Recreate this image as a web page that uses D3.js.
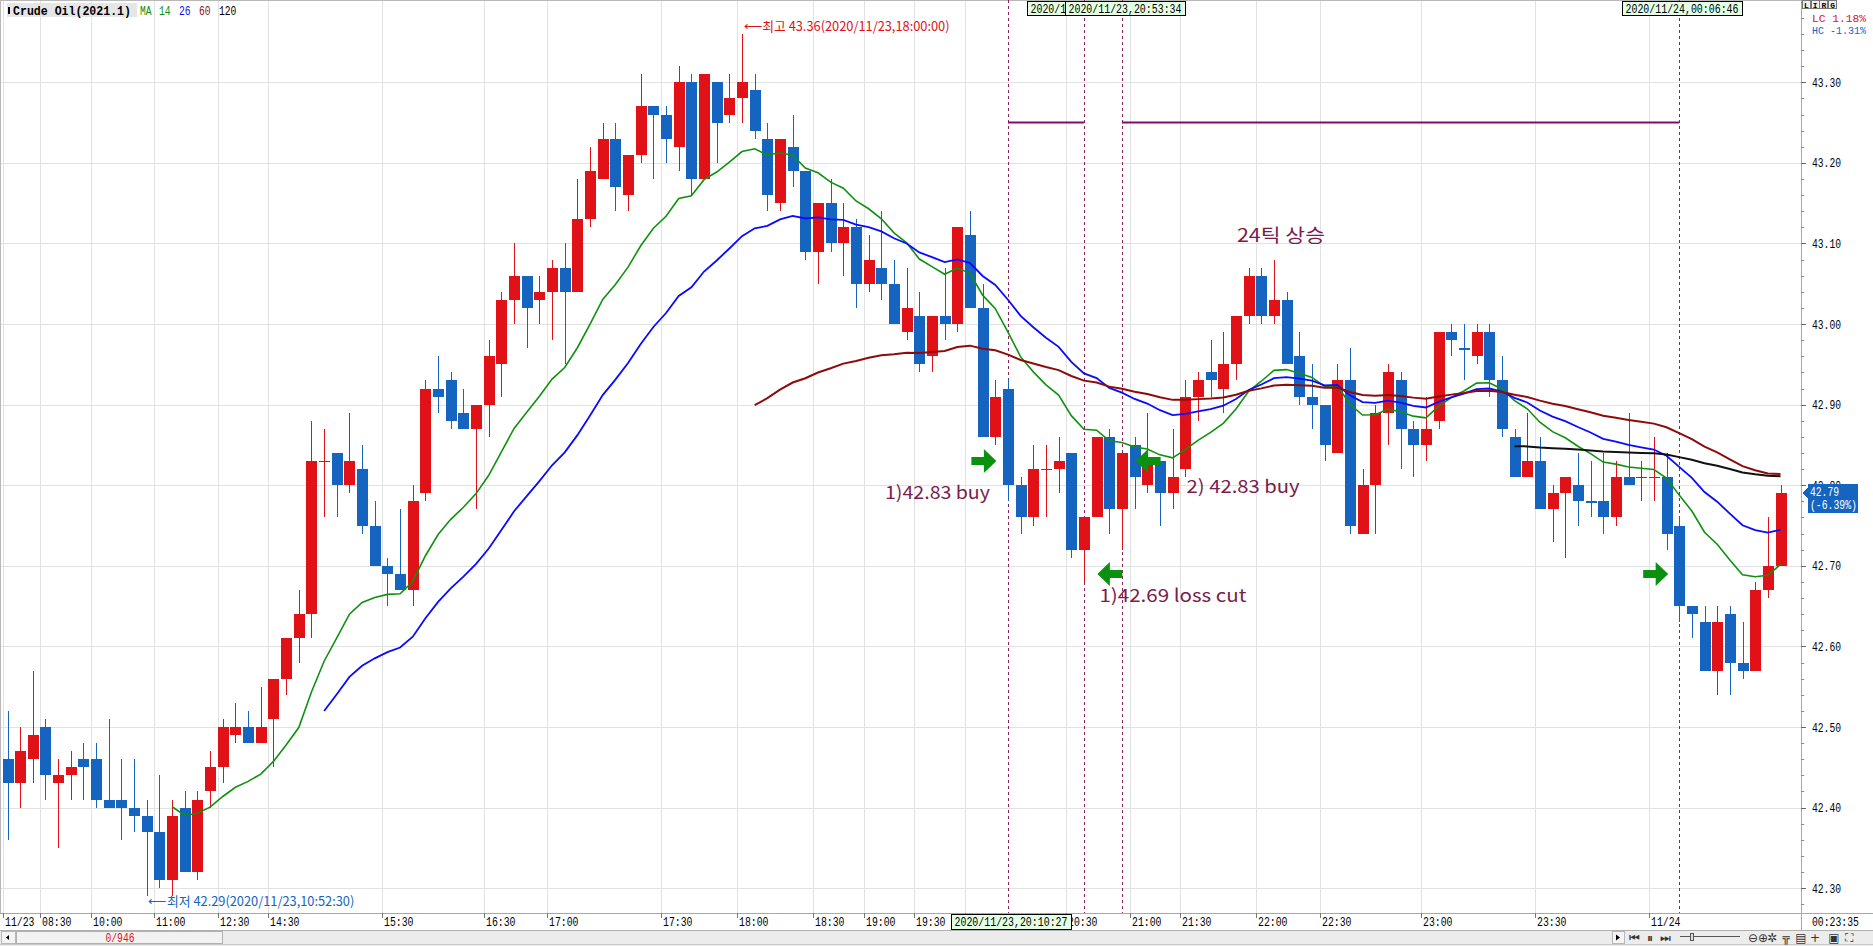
<!DOCTYPE html>
<html>
<head>
<meta charset="utf-8">
<script src="https://cdn.jsdelivr.net/npm/d3@7"></script>
<style>
body { margin: 0; background: #fff; overflow: hidden; }
svg { display: block; }
</style>
</head>
<body>
<script>
// OHLC, one entry per bar (tick bars, oldest first)
var opens = [42.46,42.43,42.46,42.50,42.43,42.44,42.46,42.46,42.41,42.41,42.40,42.39,42.37,42.31,42.40,42.32,42.42,42.45,42.49,42.50,
  42.48,42.51,42.56,42.61,42.64,42.83,42.84,42.80,42.82,42.75,42.70,42.69,42.67,42.79,42.92,42.93,42.89,42.87,42.90,42.95,
  43.03,43.06,43.03,43.04,43.07,43.04,43.13,43.18,43.23,43.16,43.21,43.27,43.26,43.22,43.30,43.18,43.30,43.26,43.28,43.29,
  43.23,43.15,43.22,43.19,43.09,43.15,43.10,43.12,43.05,43.07,43.05,42.99,43.01,42.96,43.01,43.00,43.11,43.02,42.86,42.92,
  42.80,42.76,42.82,42.82,42.84,42.72,42.76,42.86,42.77,42.85,42.80,42.83,42.79,42.82,42.91,42.94,42.92,42.95,43.01,43.06,
  43.01,43.03,42.96,42.91,42.90,42.84,42.93,42.74,42.80,42.89,42.93,42.87,42.85,42.88,42.99,42.97,42.96,42.99,42.93,42.86,
  42.81,42.83,42.77,42.79,42.80,42.78,42.78,42.76,42.81,42.81,42.81,42.81,42.75,42.65,42.63,42.57,42.64,42.58,42.57,42.67,
  42.70];
var highs = [42.52,42.50,42.57,42.51,42.46,42.47,42.48,42.48,42.51,42.46,42.46,42.41,42.44,42.41,42.42,42.42,42.47,42.51,42.53,42.52,
  42.55,42.56,42.61,42.67,42.88,42.87,42.84,42.89,42.85,42.78,42.71,42.77,42.80,42.93,42.96,42.94,42.92,42.90,42.98,43.04,
  43.10,43.06,43.06,43.08,43.10,43.18,43.22,43.25,43.25,43.21,43.31,43.27,43.27,43.32,43.31,43.31,43.30,43.31,43.36,43.31,
  43.25,43.23,43.26,43.19,43.15,43.18,43.15,43.13,43.11,43.14,43.08,43.07,43.04,43.01,43.07,43.12,43.14,43.05,42.93,42.93,
  42.81,42.85,42.85,42.86,42.84,42.76,42.86,42.87,42.84,42.86,42.89,42.83,42.87,42.93,42.94,42.98,42.99,43.01,43.07,43.07,
  43.08,43.04,42.99,42.95,42.90,42.95,42.97,42.82,42.90,42.95,42.94,42.88,42.91,42.99,43.00,43.00,43.00,43.00,42.96,42.87,
  42.89,42.86,42.80,42.81,42.84,42.83,42.84,42.83,42.89,42.83,42.86,42.84,42.76,42.65,42.65,42.65,42.65,42.63,42.68,42.76,
  42.80];
var lows = [42.36,42.40,42.43,42.41,42.35,42.41,42.41,42.40,42.40,42.36,42.37,42.29,42.30,42.29,42.32,42.31,42.40,42.43,42.48,42.48,
  42.48,42.45,42.54,42.58,42.61,42.76,42.76,42.79,42.74,42.70,42.65,42.67,42.65,42.78,42.89,42.87,42.87,42.77,42.86,42.91,
  43.00,42.97,43.00,42.98,42.95,43.04,43.12,43.18,43.14,43.14,43.20,43.18,43.20,43.19,43.16,43.18,43.20,43.25,43.25,43.23,
  43.14,43.14,43.17,43.08,43.05,43.09,43.06,43.02,43.04,43.03,43.00,42.98,42.94,42.94,42.98,42.99,43.02,42.86,42.85,42.78,
  42.74,42.75,42.76,42.79,42.71,42.68,42.76,42.74,42.72,42.77,42.79,42.75,42.77,42.81,42.88,42.91,42.89,42.93,43.00,43.00,
  43.00,42.95,42.90,42.87,42.83,42.84,42.74,42.74,42.74,42.85,42.82,42.81,42.83,42.87,42.96,42.93,42.95,42.91,42.86,42.81,
  42.81,42.77,42.73,42.71,42.75,42.76,42.74,42.75,42.80,42.78,42.78,42.72,42.63,42.61,42.57,42.54,42.54,42.56,42.57,42.66,
  42.70];
var closes = [42.43,42.47,42.49,42.44,42.44,42.45,42.45,42.41,42.40,42.40,42.39,42.37,42.31,42.39,42.32,42.41,42.45,42.50,42.50,42.48,
  42.50,42.56,42.61,42.64,42.83,42.83,42.80,42.83,42.75,42.70,42.69,42.67,42.78,42.92,42.91,42.88,42.87,42.90,42.96,43.03,
  43.06,43.02,43.04,43.07,43.04,43.13,43.19,43.23,43.17,43.21,43.27,43.26,43.23,43.30,43.18,43.31,43.25,43.28,43.30,43.24,
  43.16,43.23,43.19,43.09,43.15,43.10,43.12,43.05,43.08,43.05,43.00,43.02,42.95,43.01,43.00,43.12,43.02,42.86,42.91,42.80,
  42.76,42.82,42.82,42.83,42.72,42.76,42.86,42.77,42.84,42.81,42.83,42.79,42.81,42.91,42.93,42.93,42.95,43.01,43.06,43.01,
  43.03,42.95,42.91,42.90,42.85,42.93,42.75,42.80,42.89,42.94,42.87,42.85,42.87,42.99,42.98,42.97,42.99,42.93,42.87,42.81,
  42.83,42.77,42.79,42.81,42.78,42.78,42.76,42.81,42.80,42.81,42.81,42.74,42.65,42.64,42.57,42.63,42.58,42.57,42.67,42.70,
  42.79];

var maPeriods = [14, 26, 60, 120];
var priceTicks = [42.30, 42.40, 42.50, 42.60, 42.70, 42.80, 42.90, 43.00, 43.10, 43.20, 43.30];
var timeIdx = [0, 3, 7, 12, 17, 21, 30, 38, 43, 52, 58, 64, 68, 72, 76, 84, 89, 93, 99, 104, 112, 121, 130];
var timeLabels = ["11/23", "08:30", "10:00", "11:00", "12:30", "14:30", "15:30", "16:30", "17:00", "17:30", "18:00",
  "18:30", "19:00", "19:30", "20:00", "20:30", "21:00", "21:30", "22:00", "22:30", "23:00", "23:30", "11/24"];

// trade marks: bar index + time stamp shown in the boxes
var markIdx = [79, 85, 88, 132];
var markTimes = ["2020/11/23,20:10:27", "2020/11/23,20:38:12", "2020/11/23,20:53:34", "2020/11/24,00:06:46"];
var targetPrice = 43.25;
var lastPrice = 42.79, lastPct = "-6.39%";
var highText = "최고 43.36(2020/11/23,18:00:00)", highIdx = 58;
var lowText = "최저 42.29(2020/11/23,10:52:30)", lowIdx = 11;

var W = 1873, H = 946;
var plotR = 1801, axisY = 913;
var mono = "'Liberation Mono', 'DejaVu Sans Mono', monospace";
var kor = "'Noto Sans CJK KR', 'Noto Sans', sans-serif";
var upCol = "#e01218", downCol = "#1464c0";
var noteCol = "#7a1c4c", arrowCol = "#0b900f";

var svg = d3.select("body").append("svg")
  .attr("width", W).attr("height", H)
  .style("font-family", mono);
var defs = svg.append("defs");

var x = d3.scaleLinear().domain([0, 140]).range([7.5, 1780.5]);
var y = d3.scaleLinear().domain([42.30, 43.30]).range([888.2, 82.3]);

function label(g, px, py, s, o) {
  o = o || {};
  var t = g.append("text").attr("x", px).attr("y", py).text(s)
    .attr("font-family", o.font || mono)
    .attr("font-size", o.size || 12)
    .attr("fill", o.color || "#000");
  if (o.anchor) t.attr("text-anchor", o.anchor);
  if (o.weight) t.attr("font-weight", o.weight);
  if (o.len) t.attr("textLength", o.len).attr("lengthAdjust", "spacingAndGlyphs");
  return t;
}

// grid
var grid = svg.append("g").attr("shape-rendering", "crispEdges");
grid.selectAll(".hg").data(priceTicks).enter().append("line")
  .attr("x1", 0).attr("x2", plotR)
  .attr("y1", function (d) { return Math.round(y(d)) + 0.5; })
  .attr("y2", function (d) { return Math.round(y(d)) + 0.5; })
  .attr("stroke", "#e2e2e2");
grid.selectAll(".vg").data(timeIdx).enter().append("line")
  .attr("x1", function (d) { return Math.round(x(d) - 5) + 0.5; })
  .attr("x2", function (d) { return Math.round(x(d) - 5) + 0.5; })
  .attr("y1", 0).attr("y2", axisY)
  .attr("stroke", "#e2e2e2");

// frame
svg.append("rect").attr("x", 0.5).attr("y", 0.5).attr("width", W - 1).attr("height", axisY)
  .attr("fill", "none").attr("stroke", "#b8b8b8").attr("shape-rendering", "crispEdges");

// dashed trade lines
svg.append("g").selectAll("line").data(markIdx).enter().append("line")
  .attr("x1", function (d) { return Math.round(x(d)) + 0.5; })
  .attr("x2", function (d) { return Math.round(x(d)) + 0.5; })
  .attr("y1", 0).attr("y2", axisY)
  .attr("stroke", "#8c2458").attr("stroke-width", 1).attr("stroke-dasharray", "3,3");

// target line
svg.append("g").selectAll("line").data([[markIdx[0], markIdx[1]], [markIdx[2], markIdx[3]]]).enter().append("line")
  .attr("x1", function (d) { return x(d[0]); })
  .attr("x2", function (d) { return x(d[1]); })
  .attr("y1", y(targetPrice)).attr("y2", y(targetPrice))
  .attr("stroke", "#800a7a").attr("stroke-width", 2);

// candles
var bars = closes.map(function (c, i) { return { i: i, o: opens[i], h: highs[i], l: lows[i], c: c }; });
var prevUp = true;
bars.forEach(function (b, i) {
  if (b.c > b.o) b.up = true;
  else if (b.c < b.o) b.up = false;
  else if (i > 0 && b.c > closes[i - 1]) b.up = true;
  else if (i > 0 && b.c < closes[i - 1]) b.up = false;
  else b.up = prevUp;
  prevUp = b.up;
});

var cg = svg.append("g").attr("shape-rendering", "crispEdges");
cg.selectAll(".wick").data(bars).enter().append("rect")
  .attr("x", function (d) { return Math.round(x(d.i)) - 0.5; })
  .attr("width", 1.3)
  .attr("y", function (d) { return y(d.h); })
  .attr("height", function (d) { return Math.max(1, y(d.l) - y(d.h)); })
  .attr("fill", function (d) { return d.up ? upCol : downCol; });
cg.selectAll(".body").data(bars).enter().append("rect")
  .attr("x", function (d) { return Math.round(x(d.i)) - 5.5; })
  .attr("width", 11)
  .attr("y", function (d) { return y(Math.max(d.o, d.c)); })
  .attr("height", function (d) { return Math.max(1.3, Math.abs(y(d.o) - y(d.c))); })
  .attr("fill", function (d) { return d.up ? upCol : downCol; });

// moving averages (chart's exponential MA on closes)
function ema(n) {
  var a = 2 / (n + 1), e = closes[0], out = [];
  closes.forEach(function (c, i) {
    if (i > 0) e = e + a * (c - e);
    if (i >= n - 1) out.push({ i: i, v: e });
  });
  return out;
}
var maCols = ["#109010", "#0a0aff", "#8c0c0c", "#111111"];
var maW = [1.6, 1.8, 2, 2];
var line = d3.line().x(function (d) { return x(d.i); }).y(function (d) { return y(d.v); });
maPeriods.forEach(function (n, k) {
  svg.append("path").datum(ema(n))
    .attr("d", line).attr("fill", "none")
    .attr("stroke", maCols[k]).attr("stroke-width", maW[k]);
});

// arrows
function arrow(tipX, cy, dir) {
  var L = 25, hl = 12.5, hh = 12, sh = 4;
  var s = dir;  // +1 points right, -1 points left
  var p = [
    [tipX, cy], [tipX - s * hl, cy - hh], [tipX - s * hl, cy - sh], [tipX - s * L, cy - sh],
    [tipX - s * L, cy + sh], [tipX - s * hl, cy + sh], [tipX - s * hl, cy + hh]
  ];
  svg.append("path").attr("d", "M" + p.join("L") + "Z").attr("fill", arrowCol);
}
arrow(x(79) - 11.6, y(42.83), 1);
arrow(x(89) + 1, y(42.83), -1);
arrow(x(85) + 13.4, y(42.69), -1);
arrow(x(132) - 11, y(42.69), 1);

// trade notes
var notes = svg.append("g");
label(notes, x(79) - 18, y(42.83) + 38, "1)42.83 buy", { font: kor, size: 18, color: noteCol, anchor: "end", len: 105 });
label(notes, x(89) + 52, y(42.83) + 32, "2) 42.83 buy", { font: kor, size: 18, color: noteCol, len: 113 });
label(notes, x(85) + 15.5, y(42.69) + 28, "1)42.69 loss cut", { font: kor, size: 18, color: noteCol, len: 147 });
label(notes, x(100) + 7, y(43.10) - 1.5, "24틱 상승", { font: kor, size: 18, color: noteCol, anchor: "middle", len: 88 });

// high / low markers
label(svg, x(highIdx) + 1.5, 30.5, "⟵" + highText, { font: kor, size: 13, color: "#e01218", len: 206 });
label(svg, x(lowIdx) + 1.5, 905.5, "⟵" + lowText, { font: kor, size: 13, color: "#1464c0", len: 206 });

// mark time boxes (the later box covers part of the earlier one)
function timeBox(cx, top, s, clipRight) {
  var g = svg.append("g");
  if (clipRight) {
    var id = "clip" + Math.round(cx);
    defs.append("clipPath").attr("id", id).append("rect")
      .attr("x", 0).attr("y", 0).attr("width", clipRight).attr("height", 40);
    g.attr("clip-path", "url(#" + id + ")");
  }
  g.append("rect").attr("x", cx - 60 + 0.5).attr("y", top + 0.5).attr("width", 120).attr("height", 14)
    .attr("fill", "#e4ffe4").attr("stroke", "#000").attr("shape-rendering", "crispEdges");
  label(g, cx, top + 12, s, { anchor: "middle", len: 113, size: 12 });
}
var bx85 = Math.round(x(markIdx[1])) + 3, bx88 = Math.round(x(markIdx[2])) + 3;
timeBox(bx85, 1, markTimes[1], bx88 - 60 + 1);
timeBox(bx88, 1, markTimes[2]);
timeBox(Math.round(x(markIdx[3])) + 3, 1, markTimes[3]);

// header
svg.append("rect").attr("x", 7).attr("y", 3).attr("width", 130).attr("height", 14).attr("fill", "#e6e6e6");
svg.append("rect").attr("x", 8).attr("y", 7).attr("width", 2).attr("height", 7).attr("fill", "#000");
label(svg, 13, 15, "Crude Oil(2021.1)", { weight: "bold", len: 118, size: 13 });
var head = [["MA", 140, maCols[0]], ["14", 159, maCols[0]], ["26", 179, maCols[1]], ["60", 199, maCols[2]], ["120", 219, "#000"]];
head.forEach(function (h) { label(svg, h[1], 15, h[0], { len: h[0].length * 5.8, size: 13, color: h[2] }); });

// right price axis
var ax = svg.append("g").attr("shape-rendering", "crispEdges");
ax.append("rect").attr("x", plotR).attr("y", 0).attr("width", W - plotR).attr("height", axisY).attr("fill", "#fff");
ax.append("line").attr("x1", plotR + 0.5).attr("x2", plotR + 0.5).attr("y1", 0).attr("y2", 930).attr("stroke", "#a8a8a8");
var minor = d3.range(0, 58).map(function (k) { return 42.26 + k * 0.02; });
ax.selectAll(".mt").data(minor).enter().append("line")
  .attr("x1", plotR).attr("x2", plotR + 3)
  .attr("y1", function (d) { return Math.round(y(d)) + 0.5; })
  .attr("y2", function (d) { return Math.round(y(d)) + 0.5; })
  .attr("stroke", "#888");
ax.selectAll(".Mt").data(priceTicks).enter().append("line")
  .attr("x1", plotR).attr("x2", plotR + 5)
  .attr("y1", function (d) { return Math.round(y(d)) + 0.5; })
  .attr("y2", function (d) { return Math.round(y(d)) + 0.5; })
  .attr("stroke", "#666");
priceTicks.forEach(function (p) {
  label(ax, 1812, y(p) + 4.5, p.toFixed(2), { len: 29, size: 13 });
});

// last price tag
var ly = Math.round(y(lastPrice));
ax.append("path").attr("d", "M" + (plotR + 1) + "," + (ly) + "L" + (plotR + 7) + "," + (ly - 5) + "L" + (plotR + 7) + "," + (ly + 5) + "Z")
  .attr("fill", downCol);
ax.append("rect").attr("x", plotR + 7).attr("y", ly - 9).attr("width", 50).attr("height", 29).attr("fill", downCol);
label(ax, plotR + 9, ly + 3, lastPrice.toFixed(2), { color: "#fff", len: 29, size: 13 });
label(ax, plotR + 9, ly + 16, "(" + lastPct + ")", { color: "#fff", len: 47, size: 13 });

// LIRG buttons + LC/HC
["L", "I", "R", "G"].forEach(function (s, k) {
  ax.append("rect").attr("x", 1802.5 + k * 8.7).attr("y", 0.5).attr("width", 8).attr("height", 8)
    .attr("fill", "#f0f0f0").attr("stroke", "#777");
  label(ax, 1806.5 + k * 8.7, 7.5, s, { anchor: "middle", size: 8, weight: "bold" });
});
label(ax, 1812, 21.5, "LC  1.18%", { color: "#e01218", len: 54, size: 11 });
label(ax, 1812, 34, "HC -1.31%", { color: "#1464c0", len: 54, size: 11 });

// time axis
var ta = svg.append("g").attr("shape-rendering", "crispEdges");
ta.append("rect").attr("x", 0).attr("y", axisY).attr("width", W).attr("height", 17).attr("fill", "#fff");
ta.append("line").attr("x1", 0).attr("x2", W).attr("y1", axisY + 0.5).attr("y2", axisY + 0.5).attr("stroke", "#a8a8a8");
ta.append("line").attr("x1", plotR + 0.5).attr("x2", plotR + 0.5).attr("y1", axisY).attr("y2", 930).attr("stroke", "#a8a8a8");
// bottom time box for the first mark hides the labels under it
var bx = Math.round(x(markIdx[0])) + 3;
defs.append("clipPath").attr("id", "tclip").selectAll("rect")
  .data([[0, bx - 60], [bx + 61, W]]).enter().append("rect")
  .attr("x", function (d) { return d[0]; }).attr("width", function (d) { return d[1] - d[0]; })
  .attr("y", axisY).attr("height", 17);
var tl = ta.append("g").attr("clip-path", "url(#tclip)");
timeIdx.forEach(function (d, k) {
  var gx = Math.round(x(d) - 5) + 0.5;
  ta.append("line").attr("x1", gx).attr("x2", gx).attr("y1", axisY).attr("y2", axisY + 5).attr("stroke", "#777");
  var lx = gx + 1.5, lw = timeLabels[k].length * 5.9;
  if (lx > bx - 60 && lx + lw < bx + 61) return;   // fully under the box
  label(tl, lx, 926, timeLabels[k], { len: lw, size: 13 });
});
label(ta, 1812, 926, "00:23:35", { len: 47, size: 13 });
ta.append("rect").attr("x", bx - 60 + 0.5).attr("y", axisY + 1.5).attr("width", 120).attr("height", 15)
  .attr("fill", "#e4ffe4").attr("stroke", "#000");
label(ta, bx, 926, markTimes[0], { anchor: "middle", len: 113, size: 13 });

// scroll bar + tool icons
var sb = svg.append("g").attr("shape-rendering", "crispEdges");
sb.append("rect").attr("x", 0).attr("y", 930).attr("width", W).attr("height", 16).attr("fill", "#ececec");
sb.append("line").attr("x1", 0).attr("x2", W).attr("y1", 930.5).attr("y2", 930.5).attr("stroke", "#b0b0b0");
sb.append("line").attr("x1", 0).attr("x2", W).attr("y1", 944.5).attr("y2", 944.5).attr("stroke", "#c8c8c8");
sb.append("rect").attr("x", 1.5).attr("y", 931.5).attr("width", 14).attr("height", 12).attr("fill", "#f4f4f4").attr("stroke", "#b8b8b8");
sb.append("path").attr("d", "M6,937.5L9,935L9,940Z").attr("fill", "#000").attr("shape-rendering", "auto");
sb.append("rect").attr("x", 16.5).attr("y", 931.5).attr("width", 206).attr("height", 12).attr("fill", "#f2f2f2").attr("stroke", "#b0b0b0");
label(sb, 120, 942, "0/946", { anchor: "middle", color: "#e01218", len: 29, size: 12 });
sb.append("rect").attr("x", 1612.5).attr("y", 931.5).attr("width", 12).attr("height", 12).attr("fill", "#f4f4f4").attr("stroke", "#b8b8b8");
sb.append("path").attr("d", "M1616,934.5L1620,937.5L1616,940.5Z").attr("fill", "#000").attr("shape-rendering", "auto");
var icons = [["⏮", 1634], ["⏸", 1650], ["⏭", 1665], ["⊖", 1753], ["⊕", 1763], ["✲", 1772], ["╦", 1786], ["▤", 1801], ["+", 1815], ["▣", 1834], ["⛶", 1849]];
icons.forEach(function (c) {
  label(sb, c[1], 942, c[0], { anchor: "middle", size: 12, color: "#333", font: "'DejaVu Sans', sans-serif" });
});
sb.append("line").attr("x1", 1680).attr("x2", 1740).attr("y1", 936.5).attr("y2", 936.5).attr("stroke", "#555");
sb.append("rect").attr("x", 1690.5).attr("y", 933.5).attr("width", 3).attr("height", 7).attr("fill", "#ddd").attr("stroke", "#555");
</script>
</body>
</html>
